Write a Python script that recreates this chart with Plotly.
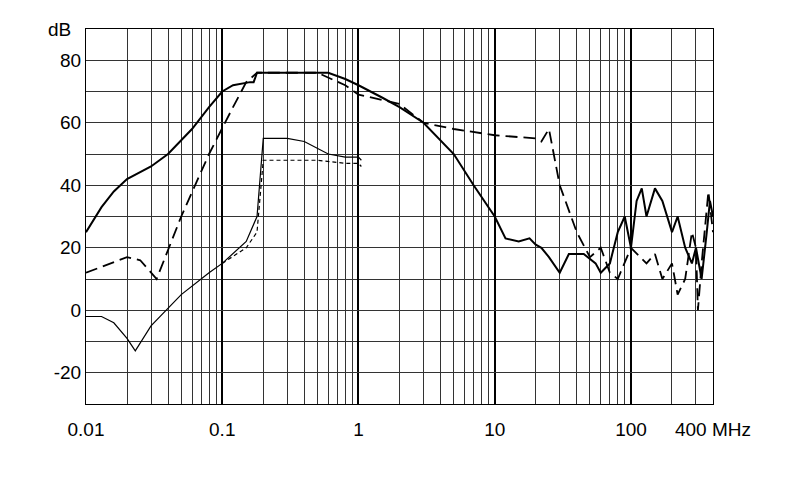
import plotly.graph_objects as go
import numpy as np

a_f = [0.01,0.013,0.016,0.02,0.03,0.04,0.06,0.08,0.1,0.12,0.16,0.17,0.18,0.3,0.5,0.6,0.8,1,1.5,2,3,5,7,10,12,15,18,20,22,25,30,35,45,55,60,70,80,90,100,110,120,130,150,170,200,220,250,280,300,330,360,380,400]
a_v = [25,33,38,42,46,50,58,65,70,72,73,73,76,76,76,76,74,72,68,65,60,50,40,30,23,22,23,21,20,17,12,18,18,15,12,15,25,30,20,35,39,30,39,35,25,30,20,15,20,10,25,35,30]
b_f = [0.01,0.015,0.02,0.025,0.03,0.033,0.05,0.08,0.12,0.15,0.18,0.3,0.5,0.8,1,2,3,5,10,20,22,25,30,40,50,60,70,80,100,130,150,170,200,220,250,280,300,310,330,370,400]
b_v = [12,15,17,16,12,10,30,50,65,73,76,76,76,72,69,66,60,58,56,55,54,58,40,25,17,20,12,10,20,15,18,10,15,5,10,25,20,0,15,38,25]
c_f = [0.01,0.013,0.016,0.02,0.023,0.03,0.05,0.08,0.1,0.15,0.18,0.2,0.3,0.4,0.6,0.8,1,1.05]
c_v = [-2,-2,-4,-9,-13,-5,5,12,15,22,30,55,55,54,50,49,49,48]
d_f = [0.1,0.15,0.18,0.2,0.3,0.5,0.8,1,1.05]
d_v = [15,20,25,48,48,48,47,47,46]

fig = go.Figure()
fig.add_trace(go.Scatter(x=a_f, y=a_v, mode="lines", line=dict(color="black", width=2)))
fig.add_trace(go.Scatter(x=b_f, y=b_v, mode="lines", line=dict(color="black", width=1.8, dash="12px,6px")))
fig.add_trace(go.Scatter(x=c_f, y=c_v, mode="lines", line=dict(color="black", width=1.2)))
fig.add_trace(go.Scatter(x=d_f, y=d_v, mode="lines", line=dict(color="black", width=1.2, dash="4px,3px")))

minor = [m*10**e for e in range(-2, 3) for m in range(2, 10) if m*10**e <= 400]

fig.update_layout(
    width=790, height=499, showlegend=False,
    plot_bgcolor="white", paper_bgcolor="white",
    margin=dict(l=78, r=85, t=21, b=103),
    font=dict(family="Liberation Sans, Arial", size=19, color="black"),
    xaxis=dict(type="log", range=[-2, np.log10(400)], tickvals=[0.01,0.1,1,10,100,400],
               ticktext=["0.01","0.1","1","10","100","400 MHz"], showgrid=True,
               gridcolor="black", gridwidth=1.6,
               minor=dict(tickvals=minor, showgrid=True, gridcolor="#333", gridwidth=0.7, ticks=""),
               showline=True, linecolor="black", mirror=True, ticks="", ticklabelstandoff=8),
    yaxis=dict(range=[-30, 90], tickvals=[-20,0,20,40,60,80], ticktext=["-20","0","20","40","60","80"],
               showgrid=True, gridcolor="#333", gridwidth=0.7,
               minor=dict(tickvals=list(range(-30, 91, 10)), showgrid=True, gridcolor="#333", gridwidth=0.7, ticks=""),
               showline=True, linecolor="black", mirror=True, ticks="", zeroline=False),
    annotations=[dict(text="dB", xref="paper", yref="y", x=-0.02, y=90, showarrow=False,
                      xanchor="right", yanchor="middle", font=dict(size=19))],
)
fig.write_html("out.html")
